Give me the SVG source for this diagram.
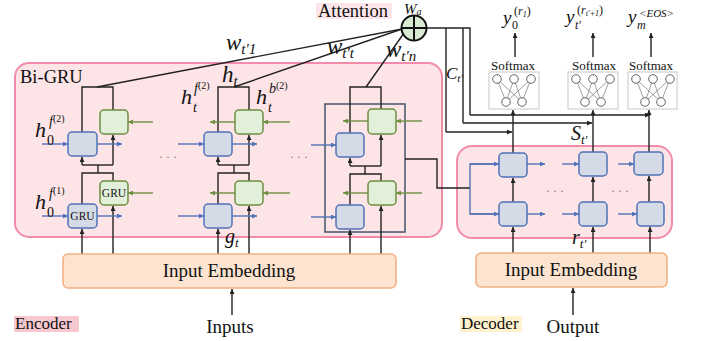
<svg xmlns="http://www.w3.org/2000/svg" width="705" height="341" viewBox="0 0 705 341">
<style>
.t{font-family:"Liberation Serif","Times New Roman",serif;fill:#111}
.m{font-family:"Liberation Serif","Times New Roman",serif;font-style:italic;fill:#111}
.bb{fill:#d5dbe6;stroke:#4f72b8;stroke-width:1.5}
.gb{fill:#e2efd9;stroke:#6b8e3f;stroke-width:1.5}
.k{stroke:#222;stroke-width:1.4;fill:none}
.kb{stroke:#222;stroke-width:1.4;fill:none;marker-end:url(#ak)}
.bl{stroke:#4f72b8;stroke-width:1.4;fill:none;marker-end:url(#abl)}
.bn{stroke:#4f72b8;stroke-width:1.4;fill:none}
.gl{stroke:#6b8e3f;stroke-width:1.4;fill:none;marker-end:url(#agr)}
.ie{fill:#fde4d0;stroke:#f4b183;stroke-width:1.6}
.sm{fill:#fff;stroke:#c8c8c8;stroke-width:1}
.nc{fill:#fff;stroke:#555;stroke-width:0.9}
.nl{stroke:#777;stroke-width:0.7}
.dots{font-family:"Liberation Serif",serif;font-size:12px;fill:#777}
</style>
<defs>
<marker id="ak" viewBox="0 0 6 6" refX="6" refY="3" markerWidth="5" markerHeight="5" orient="auto" markerUnits="userSpaceOnUse"><path d="M0,0 L6,3 L0,6 z" fill="#222"/></marker>
<marker id="abl" viewBox="0 0 6 6" refX="6" refY="3" markerWidth="5" markerHeight="5" orient="auto" markerUnits="userSpaceOnUse"><path d="M0,0 L6,3 L0,6 z" fill="#4f72b8"/></marker>
<marker id="agr" viewBox="0 0 6 6" refX="6" refY="3" markerWidth="5" markerHeight="5" orient="auto" markerUnits="userSpaceOnUse"><path d="M0,0 L6,3 L0,6 z" fill="#6b8e3f"/></marker>
</defs>

<!-- frames -->
<g id="encoder-frame">
<rect x="15" y="63" width="427" height="174" rx="14" fill="#fde4e6" stroke="#f28ca8" stroke-width="2"/>
<text class="t" x="20" y="83" font-size="18.5">Bi-GRU</text>
</g>
<g id="decoder-frame">
<rect x="457" y="146" width="215" height="92" rx="15" fill="#fde4e6" stroke="#f28ca8" stroke-width="2"/>
</g>
<g id="column-n-frame">
<rect x="325" y="104" width="80" height="128" fill="none" stroke="#44546a" stroke-width="1.5"/>
</g>

<!-- connectors -->
<g id="connectors">
<!-- encoder column 1 -->
<line class="kb" x1="82" y1="254" x2="82" y2="229"/>
<line class="kb" x1="113" y1="254" x2="113" y2="206"/>
<polyline class="k" points="82,204 82,173 113,173 113,181"/>
<line class="k" x1="98" y1="173" x2="98" y2="165"/>
<line class="k" x1="82" y1="165" x2="113" y2="165"/>
<line class="kb" x1="82" y1="165" x2="82" y2="157"/>
<line class="kb" x1="113" y1="165" x2="113" y2="135"/>
<polyline class="k" points="82,132 82,87 113,87 113,110"/>
<!-- encoder column 2 -->
<line class="kb" x1="218" y1="254" x2="218" y2="229"/>
<line class="kb" x1="249" y1="254" x2="249" y2="206"/>
<polyline class="k" points="218,204 218,173 249,173 249,181"/>
<line class="k" x1="234" y1="173" x2="234" y2="165"/>
<line class="k" x1="218" y1="165" x2="249" y2="165"/>
<line class="kb" x1="218" y1="165" x2="218" y2="157"/>
<line class="kb" x1="249" y1="165" x2="249" y2="135"/>
<polyline class="k" points="218,132 218,87 249,87 249,110"/>
<!-- encoder column 3 -->
<line class="kb" x1="350" y1="254" x2="350" y2="230"/>
<line class="kb" x1="381" y1="254" x2="381" y2="206"/>
<polyline class="k" points="350,205 350,174 381,174 381,181"/>
<line class="k" x1="365" y1="174" x2="365" y2="166"/>
<line class="k" x1="350" y1="166" x2="381" y2="166"/>
<line class="kb" x1="350" y1="166" x2="350" y2="158"/>
<line class="kb" x1="381" y1="166" x2="381" y2="135"/>
<polyline class="k" points="350,133 350,87 381,87 381,109"/>
<!-- blue horizontal arrows encoder -->
<line class="bl" x1="42" y1="144" x2="68" y2="144"/>
<line class="bl" x1="97" y1="144" x2="122" y2="144"/>
<line class="bl" x1="42" y1="216" x2="68" y2="216"/>
<line class="bl" x1="97" y1="216" x2="122" y2="216"/>
<line class="bl" x1="178" y1="144" x2="204" y2="144"/>
<line class="bl" x1="232" y1="144" x2="257" y2="144"/>
<line class="bl" x1="178" y1="216" x2="204" y2="216"/>
<line class="bl" x1="232" y1="216" x2="257" y2="216"/>
<line class="bl" x1="311" y1="145" x2="336" y2="145"/>
<line class="bl" x1="311" y1="217" x2="336" y2="217"/>
<!-- green horizontal arrows encoder -->
<line class="gl" x1="153" y1="122" x2="128" y2="122"/>
<line class="gl" x1="153" y1="193" x2="128" y2="193"/>
<line class="gl" x1="235" y1="122" x2="210" y2="122"/>
<line class="gl" x1="290" y1="122" x2="263" y2="122"/>
<line class="gl" x1="235" y1="193" x2="210" y2="193"/>
<line class="gl" x1="290" y1="193" x2="263" y2="193"/>
<line class="gl" x1="368" y1="121" x2="343" y2="121"/>
<line class="gl" x1="422" y1="121" x2="396" y2="121"/>
<line class="gl" x1="368" y1="193" x2="343" y2="193"/>
<line class="gl" x1="422" y1="193" x2="396" y2="193"/>
<!-- attention lines -->
<line class="k" x1="97" y1="87" x2="402" y2="29"/>
<line class="k" x1="234" y1="87" x2="402" y2="29"/>
<line class="k" x1="366" y1="87" x2="404" y2="33"/>
<!-- context lines -->
<polyline class="k" points="427,28 470,28 470,115"/>
<line class="k" x1="446" y1="28" x2="446" y2="132"/>
<line class="k" x1="463" y1="28" x2="463" y2="123"/>
<line class="kb" x1="446" y1="132" x2="512" y2="132"/>
<line class="kb" x1="463" y1="123" x2="592" y2="123"/>
<line class="kb" x1="470" y1="115" x2="650" y2="115"/>
<!-- encoder to decoder -->
<polyline class="k" points="405,159 437,159 437,188 470,188"/>
<polyline class="bn" points="499,164 470,164 470,214 499,214"/>
<line class="bl" x1="470" y1="164" x2="499" y2="164"/>
<line class="bl" x1="470" y1="214" x2="499" y2="214"/>
<!-- decoder horizontal -->
<line class="bl" x1="527" y1="164" x2="545" y2="164"/>
<line class="bl" x1="527" y1="214" x2="545" y2="214"/>
<line class="bl" x1="562" y1="164" x2="579" y2="164"/>
<line class="bl" x1="562" y1="214" x2="579" y2="214"/>
<line class="bl" x1="618" y1="164" x2="634" y2="164"/>
<line class="bl" x1="618" y1="214" x2="637" y2="214"/>
<!-- decoder vertical -->
<line class="kb" x1="513" y1="253" x2="513" y2="227"/>
<line class="kb" x1="593" y1="253" x2="593" y2="227"/>
<line class="kb" x1="650" y1="253" x2="650" y2="227"/>
<line class="kb" x1="513" y1="202" x2="513" y2="178"/>
<line class="kb" x1="593" y1="202" x2="593" y2="177"/>
<line class="kb" x1="649" y1="202" x2="649" y2="176"/>
<line class="kb" x1="513" y1="153" x2="513" y2="110"/>
<line class="kb" x1="593" y1="152" x2="593" y2="110"/>
<line class="kb" x1="649" y1="152" x2="649" y2="110"/>
<!-- softmax outputs -->
<line class="kb" x1="515" y1="57" x2="515" y2="33"/>
<line class="kb" x1="593" y1="57" x2="593" y2="33"/>
<line class="kb" x1="651" y1="57" x2="651" y2="33"/>
<!-- inputs -->
<line class="kb" x1="232" y1="315" x2="232" y2="289"/>
<line class="kb" x1="573" y1="315" x2="573" y2="288"/>
</g>

<!-- encoder GRU cells -->
<g id="enc-f1-1"><rect class="bb" x="68" y="204" width="29" height="24" rx="4"/><text class="t" x="82.5" y="220" font-size="11.5" text-anchor="middle">GRU</text></g>
<g id="enc-f2-1"><rect class="bb" x="68" y="132" width="29" height="24" rx="4"/></g>
<g id="enc-b1-1"><rect class="gb" x="100" y="181" width="28" height="24" rx="4"/><text class="t" x="114" y="197" font-size="11.5" text-anchor="middle">GRU</text></g>
<g id="enc-b2-1"><rect class="gb" x="100" y="110" width="28" height="24" rx="4"/></g>
<g id="enc-f1-t"><rect class="bb" x="204" y="204" width="28" height="24" rx="4"/></g>
<g id="enc-f2-t"><rect class="bb" x="204" y="132" width="28" height="24" rx="4"/></g>
<g id="enc-b1-t"><rect class="gb" x="235" y="181" width="28" height="24" rx="4"/></g>
<g id="enc-b2-t"><rect class="gb" x="235" y="110" width="28" height="24" rx="4"/></g>
<g id="enc-f1-n"><rect class="bb" x="336" y="205" width="28" height="24" rx="4"/></g>
<g id="enc-f2-n"><rect class="bb" x="336" y="133" width="28" height="24" rx="4"/></g>
<g id="enc-b1-n"><rect class="gb" x="368" y="181" width="28" height="24" rx="4"/></g>
<g id="enc-b2-n"><rect class="gb" x="368" y="109" width="28" height="25" rx="4"/></g>
<text class="dots" x="159" y="161">· · ·</text>
<text class="dots" x="290" y="161">· · ·</text>

<!-- decoder GRU cells -->
<g id="dec-1-top"><rect class="bb" x="499" y="153" width="28" height="24" rx="4"/></g>
<g id="dec-1-bot"><rect class="bb" x="499" y="202" width="28" height="24" rx="4"/></g>
<g id="dec-2-top"><rect class="bb" x="579" y="152" width="28" height="24" rx="4"/></g>
<g id="dec-2-bot"><rect class="bb" x="579" y="202" width="28" height="24" rx="4"/></g>
<g id="dec-3-top"><rect class="bb" x="634" y="152" width="29" height="23" rx="4"/></g>
<g id="dec-3-bot"><rect class="bb" x="637" y="202" width="27" height="24" rx="4"/></g>
<text class="dots" x="546" y="195">· · ·</text>
<text class="dots" x="611" y="195">· · ·</text>

<!-- input embeddings -->
<g id="enc-embedding"><rect class="ie" x="63" y="254" width="333" height="34" rx="5"/><text class="t" x="229" y="277" font-size="19" text-anchor="middle">Input Embedding</text></g>
<g id="dec-embedding"><rect class="ie" x="476" y="253" width="191" height="34" rx="5"/><text class="t" x="571" y="276" font-size="19" text-anchor="middle">Input Embedding</text></g>

<!-- attention -->
<g id="attention">
<rect x="316" y="3" width="76" height="16" fill="#fde6ea"/>
<text class="t" x="318" y="17" font-size="18.5">Attention</text>
<circle cx="414" cy="28" r="12.5" fill="#d9ead3" stroke="#111" stroke-width="2"/>
<line x1="401.5" y1="28" x2="426.5" y2="28" stroke="#111" stroke-width="2"/>
<line x1="414" y1="15.5" x2="414" y2="40.5" stroke="#111" stroke-width="2"/>
<text class="m" x="404" y="13.5" font-size="15">W<tspan font-size="10" dy="1.5">a</tspan></text>
</g>

<!-- softmax blocks -->
<g id="softmax-1">
<text class="t" x="513" y="70" font-size="13" text-anchor="middle">Softmax</text>
<rect class="sm" x="489" y="72" width="50" height="37"/>
<line class="nl" x1="497" y1="79" x2="506" y2="102"/><line class="nl" x1="497" y1="79" x2="522" y2="102"/>
<line class="nl" x1="514" y1="79" x2="506" y2="102"/><line class="nl" x1="514" y1="79" x2="522" y2="102"/>
<line class="nl" x1="531" y1="79" x2="506" y2="102"/><line class="nl" x1="531" y1="79" x2="522" y2="102"/>
<circle class="nc" cx="497" cy="79" r="4.3"/><circle class="nc" cx="514" cy="79" r="4.3"/><circle class="nc" cx="531" cy="79" r="4.3"/>
<circle class="nc" cx="506" cy="102" r="4.3"/><circle class="nc" cx="522" cy="102" r="4.3"/>
</g>
<g id="softmax-2">
<text class="t" x="594" y="70" font-size="13" text-anchor="middle">Softmax</text>
<rect class="sm" x="568" y="72" width="50" height="37"/>
<line class="nl" x1="576" y1="79" x2="585" y2="102"/><line class="nl" x1="576" y1="79" x2="601" y2="102"/>
<line class="nl" x1="593" y1="79" x2="585" y2="102"/><line class="nl" x1="593" y1="79" x2="601" y2="102"/>
<line class="nl" x1="610" y1="79" x2="585" y2="102"/><line class="nl" x1="610" y1="79" x2="601" y2="102"/>
<circle class="nc" cx="576" cy="79" r="4.3"/><circle class="nc" cx="593" cy="79" r="4.3"/><circle class="nc" cx="610" cy="79" r="4.3"/>
<circle class="nc" cx="585" cy="102" r="4.3"/><circle class="nc" cx="601" cy="102" r="4.3"/>
</g>
<g id="softmax-3">
<text class="t" x="651" y="70" font-size="13" text-anchor="middle">Softmax</text>
<rect class="sm" x="628" y="72" width="49" height="37"/>
<line class="nl" x1="636" y1="79" x2="645" y2="102"/><line class="nl" x1="636" y1="79" x2="661" y2="102"/>
<line class="nl" x1="653" y1="79" x2="645" y2="102"/><line class="nl" x1="653" y1="79" x2="661" y2="102"/>
<line class="nl" x1="670" y1="79" x2="645" y2="102"/><line class="nl" x1="670" y1="79" x2="661" y2="102"/>
<circle class="nc" cx="636" cy="79" r="4.3"/><circle class="nc" cx="653" cy="79" r="4.3"/><circle class="nc" cx="670" cy="79" r="4.3"/>
<circle class="nc" cx="645" cy="102" r="4.3"/><circle class="nc" cx="661" cy="102" r="4.3"/>
</g>

<!-- math labels -->
<g id="labels">
<text class="m" x="503" y="24" font-size="19">y</text>
<text class="t" x="512" y="29" font-size="12">0</text>
<text class="m" x="514" y="15" font-size="12"><tspan font-style="normal">(</tspan>r<tspan font-size="8" dy="2">1</tspan><tspan font-style="normal" dy="-2">)</tspan></text>

<text class="m" x="566" y="23" font-size="19">y</text>
<text class="m" x="575" y="29" font-size="12">t′</text>
<text class="m" x="577" y="14" font-size="12"><tspan font-style="normal">(</tspan>r<tspan font-size="8" dy="2">t′+1</tspan><tspan font-style="normal" dy="-2">)</tspan></text>

<text class="m" x="628" y="23" font-size="19">y</text>
<text class="m" x="637" y="29" font-size="12">m</text>
<text class="m" x="639" y="17" font-size="11">&lt;EOS&gt;</text>

<text class="m" x="446" y="79" font-size="17">C<tspan font-size="11" dy="3">t′</tspan></text>
<text class="m" x="571" y="140" font-size="20">S<tspan font-size="13" dy="4">t′</tspan></text>
<text class="m" x="572" y="244" font-size="20">r<tspan font-size="13" dy="4">t′</tspan></text>
<text class="m" x="225" y="243" font-size="20">g<tspan font-size="13" dy="4">t</tspan></text>

<text class="m" x="226" y="50" font-size="23">w<tspan font-size="15" dy="4">t′1</tspan></text>
<text class="m" x="327" y="54" font-size="23">w<tspan font-size="15" dy="4">t′t</tspan></text>
<text class="m" x="386" y="57" font-size="23">w<tspan font-size="15" dy="4">t′n</tspan></text>

<text class="m" x="222" y="82" font-size="23">h<tspan font-size="15" dy="4">t</tspan></text>

<text class="m" x="35" y="137" font-size="22">h</text>
<text class="t" x="47" y="145" font-size="14">0</text>
<text class="m" x="49" y="126" font-size="14">f<tspan font-style="normal" font-size="10" dy="-4">(2)</tspan></text>

<text class="m" x="35" y="209" font-size="22">h</text>
<text class="t" x="47" y="217" font-size="14">0</text>
<text class="m" x="49" y="198" font-size="14">f<tspan font-style="normal" font-size="10" dy="-4">(1)</tspan></text>

<text class="m" x="181" y="104" font-size="22">h</text>
<text class="m" x="193" y="112" font-size="14">t</text>
<text class="m" x="194" y="93" font-size="14">f<tspan font-style="normal" font-size="10" dy="-4">(2)</tspan></text>

<text class="m" x="256" y="104" font-size="22">h</text>
<text class="m" x="268" y="112" font-size="14">t</text>
<text class="m" x="269" y="93" font-size="14">b<tspan font-style="normal" font-size="10" dy="-4">(2)</tspan></text>
</g>

<!-- bottom labels -->
<g id="encoder-label"><rect x="14" y="316" width="65" height="16" fill="#f8c8d0"/><text class="t" x="15" y="329" font-size="17">Encoder</text></g>
<g id="decoder-label"><rect x="460" y="316" width="62" height="16" fill="#fff2cc"/><text class="t" x="461" y="329" font-size="17">Decoder</text></g>
<text class="t" x="230" y="333" font-size="19" text-anchor="middle">Inputs</text>
<text class="t" x="573" y="333" font-size="19" text-anchor="middle">Output</text>
</svg>
